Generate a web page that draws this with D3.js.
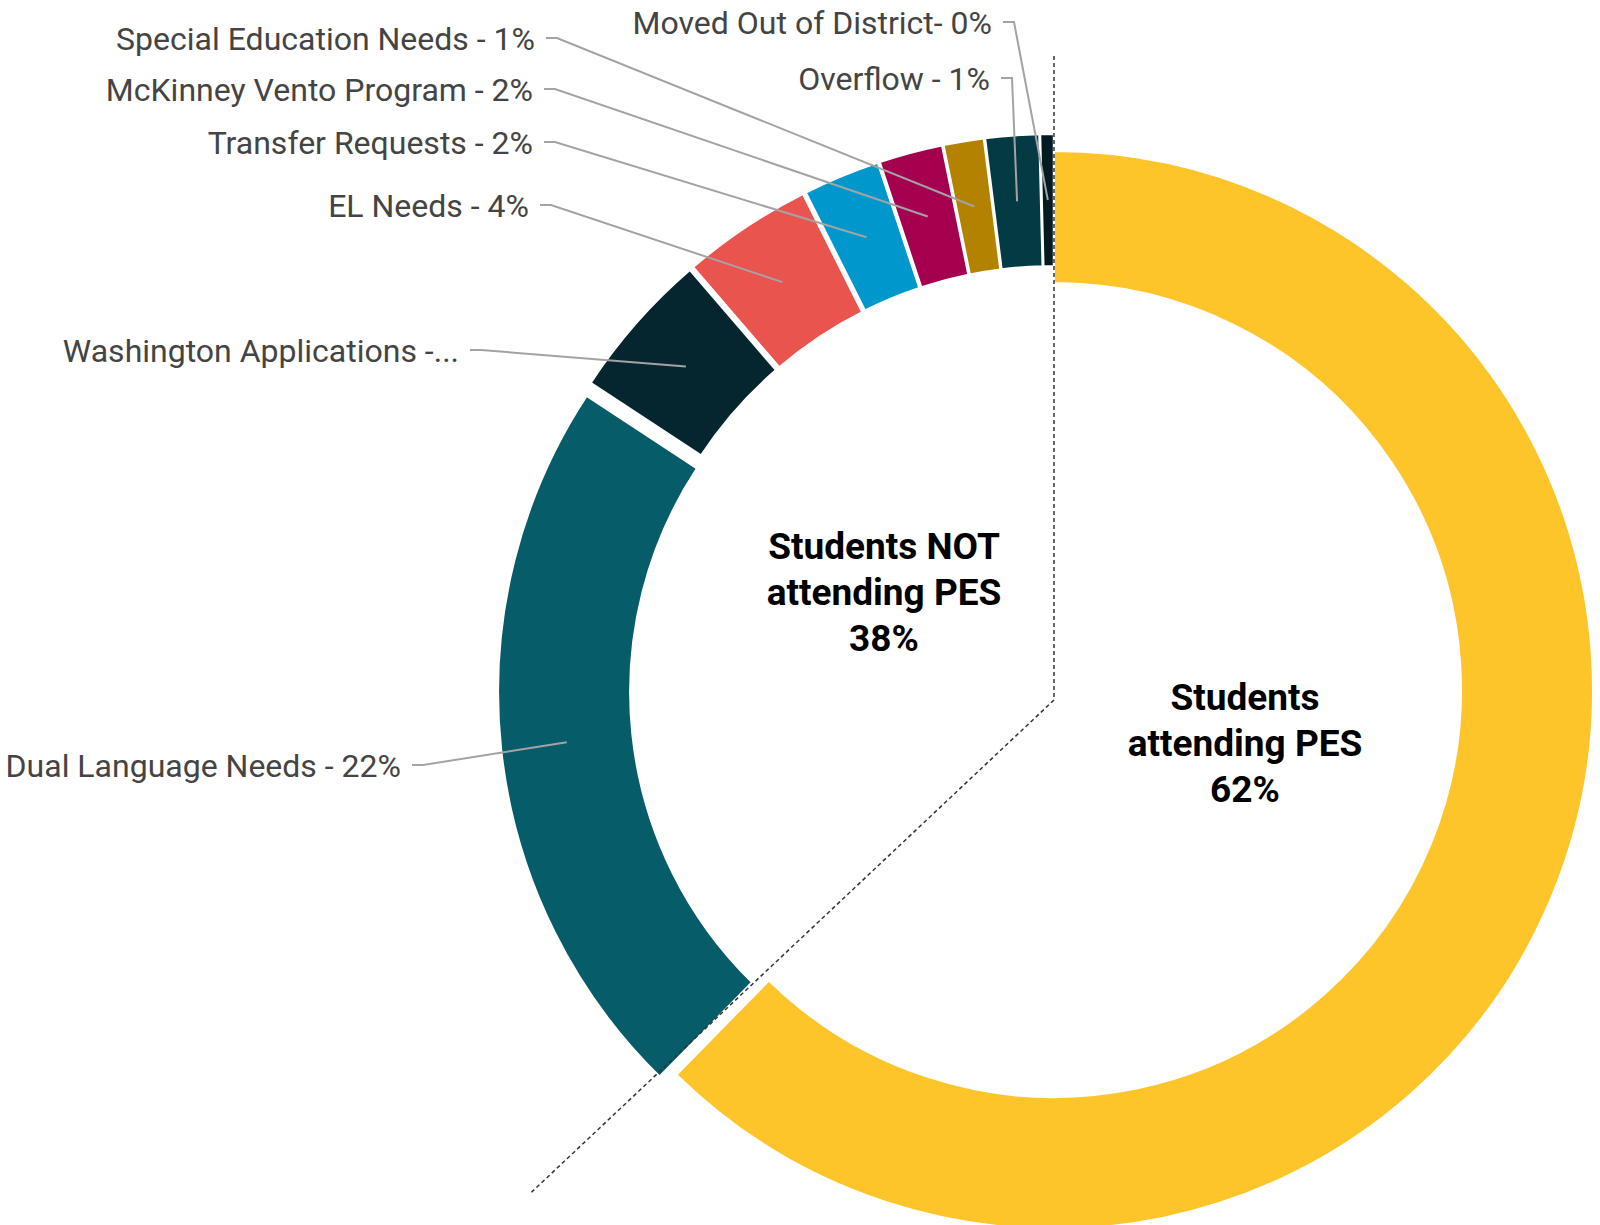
<!DOCTYPE html>
<html>
<head>
<meta charset="utf-8">
<script src="https://cdn.jsdelivr.net/npm/d3@7"></script>
<style>
  body { margin: 0; background: #fff; }
  svg text { font-family: Roboto, "Noto Sans", sans-serif; }
</style>
</head>
<body>
<div id="chart"></div>
<script>
// slice data, clockwise from 12 o'clock
let categories = ["Students attending PES", "Dual Language Needs", "Washington Applications",
  "EL Needs", "Transfer Requests", "McKinney Vento Program", "Special Education Needs",
  "Overflow", "Moved Out of District"];
let values = [62.35, 21.9, 4.45, 3.9, 2.3, 1.9, 1.2, 1.6, 0.4];
let labelTexts = [null, "Dual Language Needs - 22%", "Washington Applications -...",
  "EL Needs - 4%", "Transfer Requests - 2%", "McKinney Vento Program - 2%",
  "Special Education Needs - 1%", "Overflow - 1%", "Moved Out of District- 0%"];
let groups = ["in", "out", "out", "out", "out", "out", "out", "out", "out"];
let groupTitles = [["Students", "attending PES", "62%"], ["Students NOT", "attending PES", "38%"]];

let colors = ["#FDC52A", "#065C68", "#06262F", "#E9544F", "#0097CD", "#A5004F", "#B38200", "#033A44", "#021A20"];

// layout for outside labels (right edge of text, text centre y)
let labelRight = [null, 401, 459, 529, 533, 533, 535, 990, 992];
let labelY = [null, 765, 350, 205, 142, 89, 38, 78, 22];

function makeChart() {
  let svgWidth = 1600;
  let svgHeight = 1225;
  let cx = 1054, cy = 690;
  let outerR = 539, innerR = 407;
  let explode = {in: 0, out: 17};

  let svg = d3.select("#chart")
    .append("svg")
    .attr("width", svgWidth)
    .attr("height", svgHeight);

  let pie = d3.pie().sort(null).value(d => d)(values);
  let arc = d3.arc().innerRadius(innerR).outerRadius(outerR);

  let dir = a => [Math.sin(a), -Math.cos(a)];

  let slices = svg.append("g").attr("transform", `translate(${cx}, ${cy})`);
  slices.selectAll("path")
    .data(pie)
    .enter()
    .append("path")
    .attr("d", arc)
    .attr("fill", (d, i) => colors[i])
    .attr("stroke", "#fff")
    .attr("stroke-width", 2)
    .attr("transform", (d, i) => {
      let m = (d.startAngle + d.endAngle) / 2;
      let [ux, uy] = dir(m);
      let off = explode[groups[i]];
      return `translate(${ux * off}, ${uy * off})`;
    });

  // leader lines + labels
  let midR = (innerR + outerR) / 2;
  pie.forEach((d, i) => {
    if (!labelTexts[i]) return;
    let m = (d.startAngle + d.endAngle) / 2;
    let [ux, uy] = dir(m);
    let off = explode[groups[i]];
    let px = cx + ux * (off + midR), py = cy + uy * (off + midR);
    let tx = labelRight[i], ty = labelY[i];
    svg.append("polyline")
      .attr("points", `${tx + 11},${ty} ${tx + 22},${ty} ${px},${py}`)
      .attr("fill", "none")
      .attr("stroke", "#a3a3a3")
      .attr("stroke-width", 2);
    svg.append("text")
      .attr("x", tx)
      .attr("y", ty)
      .attr("dy", "0.36em")
      .attr("text-anchor", "end")
      .attr("font-size", "32px")
      .attr("fill", "#444")
      .text(labelTexts[i]);
  });

  // dashed split between the two groups
  let splitEnd = pie[0].endAngle + 2.25 * Math.PI / 180;
  let corner = [cx, cy + 10];
  let [sx, sy] = dir(splitEnd);
  svg.append("polyline")
    .attr("points", `${cx},56 ${corner[0]},${corner[1]} ${corner[0] + sx * 718},${corner[1] + sy * 718}`)
    .attr("fill", "none")
    .attr("stroke", "#333")
    .attr("stroke-width", 1.5)
    .attr("stroke-dasharray", "4,3");

  // group titles
  let titlePos = [[1245, 697], [884, 546]];
  groupTitles.forEach((lines, g) => {
    let t = svg.append("text")
      .attr("text-anchor", "middle")
      .attr("font-size", "37px")
      .attr("font-weight", "bold")
      .attr("fill", "#000");
    lines.forEach((s, k) => {
      t.append("tspan")
        .attr("x", titlePos[g][0])
        .attr("y", titlePos[g][1] + k * 46)
        .attr("dy", "0.36em")
        .text(s);
    });
  });
}

makeChart();
</script>
</body>
</html>
